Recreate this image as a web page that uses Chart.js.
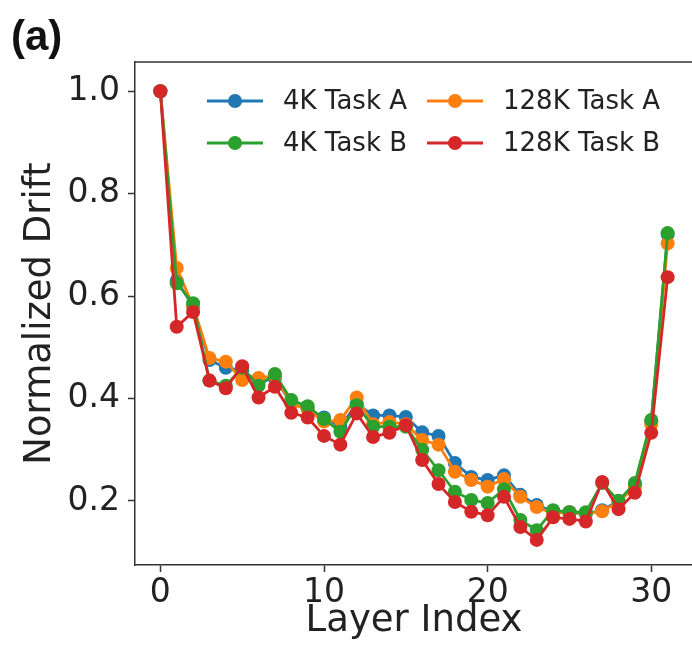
<!DOCTYPE html>
<html>
<head>
<meta charset="utf-8">
<script src="https://cdn.jsdelivr.net/npm/chart.js@4.4.1/dist/chart.umd.min.js"></script>
<style>
  html, body { margin: 0; padding: 0; background: #fff; overflow: hidden; }
  #wrap { position: relative; width: 700px; height: 651px; }
</style>
</head>
<body>
<div id="wrap"><canvas id="c" width="700" height="651"></canvas></div>
<script>
const layers = [0,1,2,3,4,5,6,7,8,9,10,11,12,13,14,15,16,17,18,19,20,21,22,23,24,25,26,27,28,29,30,31];
const task4KA   = [1.0,0.630,0.580,0.475,0.460,0.455,0.432,0.440,0.390,0.380,0.363,0.345,0.390,0.367,0.367,0.364,0.334,0.327,0.274,0.247,0.241,0.250,0.212,0.192,0.180,0.178,0.175,0.182,0.200,0.232,0.355,0.720];
const task4KB   = [1.0,0.625,0.586,0.435,0.425,0.460,0.425,0.448,0.397,0.385,0.360,0.335,0.387,0.345,0.345,0.345,0.300,0.260,0.218,0.202,0.196,0.223,0.163,0.143,0.182,0.178,0.178,0.235,0.200,0.235,0.358,0.723];
const task128KA = [1.0,0.655,0.580,0.479,0.472,0.436,0.440,0.445,0.390,0.378,0.355,0.358,0.402,0.350,0.354,0.350,0.319,0.310,0.257,0.241,0.228,0.243,0.208,0.188,0.176,0.178,0.175,0.180,0.198,0.228,0.350,0.703];
const task128KB = [1.0,0.540,0.569,0.435,0.420,0.463,0.402,0.423,0.372,0.363,0.327,0.310,0.371,0.325,0.333,0.348,0.280,0.233,0.198,0.179,0.172,0.208,0.149,0.124,0.168,0.165,0.160,0.237,0.184,0.216,0.333,0.637];
const seriesNames = ["4K Task A", "4K Task B", "128K Task A", "128K Task B"];
const xTickVals = [0, 10, 20, 30];
const yTickVals = [0.2, 0.4, 0.6, 0.8, 1.0];

const colors = ["#1f77b4", "#2ca02c", "#ff7f0e", "#d62728"];
const drawOrder = [3, 1, 2, 0]; // higher drawn first; red on top
const allSeries = [task4KA, task4KB, task128KA, task128KB];

const datasets = allSeries.map((vals, i) => ({
  label: seriesNames[i],
  data: vals.map((v, j) => ({ x: layers[j], y: v })),
  borderColor: colors[i],
  backgroundColor: colors[i],
  borderWidth: 2.8,
  pointRadius: 7,
  pointHoverRadius: 7,
  pointBorderWidth: 0,
  pointBackgroundColor: colors[i],
  order: drawOrder[i],
  tension: 0
}));

const FONT = "'DejaVu Sans', sans-serif";

const framePlugin = {
  id: 'frame',
  afterDatasetsDraw(chart) {
    const a = chart.chartArea, ctx = chart.ctx;
    ctx.save();
    ctx.strokeStyle = '#333';
    ctx.lineWidth = 1.5;
    ctx.beginPath();
    ctx.moveTo(a.left, a.top);
    ctx.lineTo(a.right, a.top);
    ctx.lineTo(a.right, a.bottom);
    ctx.stroke();
    ctx.restore();
  },
  afterDraw(chart) {
    const ctx = chart.ctx;
    ctx.save();
    // panel label
    ctx.fillStyle = '#111';
    ctx.font = "bold 42px 'Liberation Sans Narrow', 'Liberation Sans', sans-serif";
    ctx.textBaseline = 'alphabetic';
    ctx.textAlign = 'left';
    ctx.fillText('(a)', 11, 50);
    // legend (2 columns, column-major)
    const cells = [
      { i: 0, lx: 207, ly: 101 },
      { i: 1, lx: 207, ly: 143 },
      { i: 2, lx: 427, ly: 101 },
      { i: 3, lx: 427, ly: 143 }
    ];
    ctx.font = "26px " + FONT;
    ctx.textBaseline = 'middle';
    cells.forEach(c => {
      ctx.strokeStyle = colors[c.i];
      ctx.fillStyle = colors[c.i];
      ctx.lineWidth = 2.8;
      ctx.beginPath();
      ctx.moveTo(c.lx, c.ly);
      ctx.lineTo(c.lx + 56, c.ly);
      ctx.stroke();
      ctx.beginPath();
      ctx.arc(c.lx + 28, c.ly, 7, 0, Math.PI * 2);
      ctx.fill();
      ctx.fillStyle = '#222';
      ctx.fillText(seriesNames[c.i], c.lx + 76, c.ly + 1);
    });
    ctx.restore();
  }
};

new Chart(document.getElementById('c'), {
  type: 'line',
  data: { datasets },
  plugins: [framePlugin],
  options: {
    responsive: false,
    devicePixelRatio: 1,
    animation: false,
    layout: { padding: { top: 62, right: 6, left: 0, bottom: 0 } },
    plugins: { legend: { display: false }, tooltip: { enabled: false } },
    scales: {
      x: {
        type: 'linear',
        position: 'bottom',
        min: -1.55,
        max: 32.55,
        afterFit: s => { s.height = 86; },
        afterBuildTicks: s => { s.ticks = xTickVals.map(v => ({ value: v })); },
        ticks: { font: { family: FONT, size: 33 }, color: '#222', padding: 2, maxRotation: 0, callback: v => String(v) },
        grid: { drawOnChartArea: false, drawTicks: true, tickLength: 7, tickColor: '#333', tickWidth: 1.5 },
        border: { color: '#333', width: 1.5 },
        title: { display: true, text: 'Layer Index', color: '#222', font: { family: FONT, size: 37, lineHeight: 1 }, padding: { top: 0, bottom: 11 } }
      },
      y: {
        type: 'linear',
        min: 0.075,
        max: 1.057,
        afterFit: s => { s.width = 135; },
        afterBuildTicks: s => { s.ticks = yTickVals.map(v => ({ value: v })); },
        ticks: { font: { family: FONT, size: 33 }, color: '#222', padding: 8, callback: v => Number(v).toFixed(1) },
        grid: { drawOnChartArea: false, drawTicks: true, tickLength: 7, tickColor: '#333', tickWidth: 1.5 },
        border: { color: '#333', width: 1.5 },
        title: { display: true, text: 'Normalized Drift', color: '#222', font: { family: FONT, size: 37, lineHeight: 1 }, padding: { top: 22, bottom: 0 } }
      }
    }
  }
});
</script>
</body>
</html>
